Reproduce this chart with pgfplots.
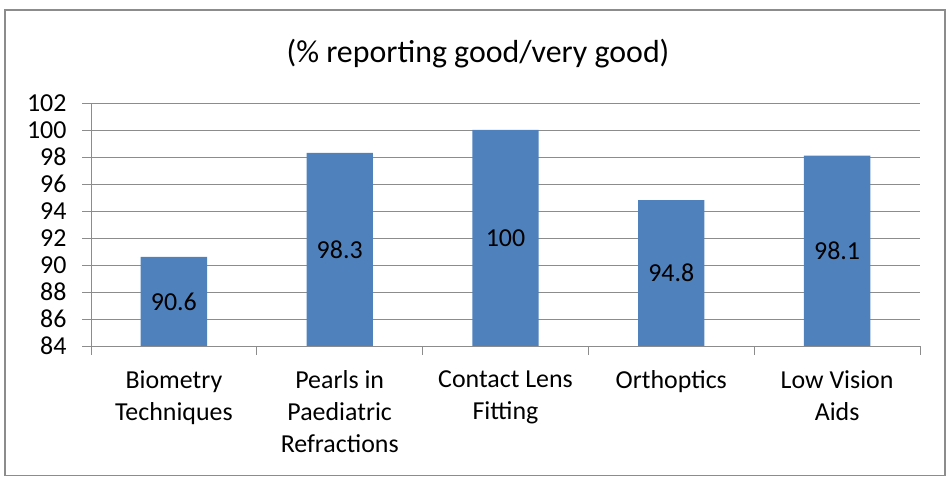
\documentclass[border=0pt]{standalone}
\usepackage{pgfplots}
\pgfplotsset{compat=1.18}
\usepackage{fontspec}
\setmainfont{Carlito}
\definecolor{barblue}{HTML}{4F81BD}
\definecolor{gridgray}{HTML}{8C8C8C}
\begin{document}
\begin{tikzpicture}[x=1bp,y=1bp]
\path[use as bounding box] (0,0) rectangle (948,477);
\draw[gridgray, line width=1.2bp] (5,1.5) rectangle (945,467);
\begin{axis}[
  at={(91bp,131bp)}, anchor=south west,
  scale only axis, width=829bp, height=243bp,
  xmin=-0.5, xmax=4.5, ymin=84, ymax=102,
  ytick={84,86,...,102},
  xtick={0,1,2,3,4},
  xticklabels={{Biometry\\Techniques},{Pearls in\\Paediatric\\Refractions},{Contact Lens\\Fitting},{Orthoptics},{Low Vision\\Aids}},
  minor xtick={-0.5,0.5,...,4.5},
  axis x line*=bottom, axis y line*=left,
  axis line style={gridgray, line width=0.9bp, -},
  ymajorgrids, grid style={gridgray, line width=0.9bp},
  tick align=outside,
  major tick length=9bp, minor tick length=9bp,
  major x tick style={draw=none},
  every tick/.style={gridgray, line width=0.9bp},
  minor x tick style={gridgray, line width=0.9bp},
  major y tick style={gridgray, line width=0.9bp},
  ticklabel style={font=\fontsize{26}{32}\selectfont, text=black},
  xticklabel style={align=center, yshift=-12bp},
  yticklabel style={xshift=-12bp},
  /pgf/number format/assume math mode=true,
  clip=false,
]
\addplot[ybar, bar width=0.4, fill=barblue, draw=none] coordinates {(0,90.6) (1,98.3) (2,100) (3,94.8) (4,98.1)};
\addplot[draw=none, nodes near coords, point meta=explicit,
  every node near coord/.style={anchor=center, font=\fontsize{26}{30}\selectfont, text=black}]
  table[x=x, y expr=(\thisrow{y}+84)/2, meta=y] {
x y
0 90.6
1 98.3
2 100
3 94.8
4 98.1
};
\end{axis}
\node[font=\fontsize{32}{36}\selectfont] at (478,423) {(\% reporting good/very good)};
\end{tikzpicture}
\end{document}
